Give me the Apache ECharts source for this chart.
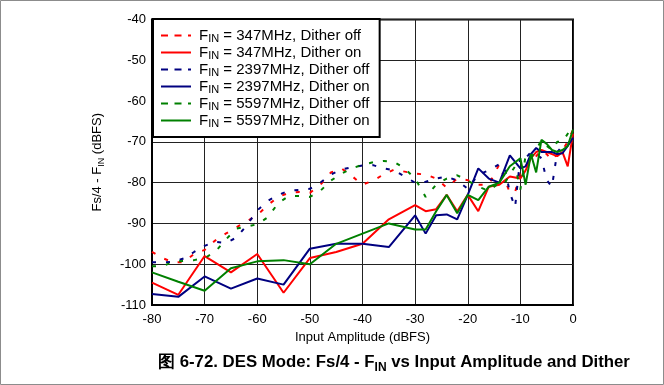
<!DOCTYPE html>
<html>
<head>
<meta charset="utf-8">
<script src="https://cdn.jsdelivr.net/npm/echarts@6/dist/echarts.min.js"></script>
<style>
html,body{margin:0;padding:0;background:#fff;}
#chart{width:664px;height:385px;}
</style>
</head>
<body>
<div id="chart"></div>
<script>
// ---- data ----
const xTicks = [-80, -70, -60, -50, -40, -30, -20, -10, 0];
const yTicks = [-110, -100, -90, -80, -70, -60, -50, -40];

// x positions for "Dither on" sweeps
const xOn = [-80,-75,-70,-65,-60,-55,-50,-45,-40,-35,-30,-28,-26,-24,-22,-20,-18,-16,-14,-12,-10,-9,-8,-7,-6,-5,-4,-3,-2,-1,0];
// x positions for "Dither off" sweeps
const xOff = [-80,-78,-76,-74,-72,-70,-68,-66,-64,-62,-60,-58,-56,-54,-52,-50,-48,-46,-44,-42,-40,-38,-36,-34,-32,-30,-28,-26,-24,-22,-20,-18,-16,-14,
              -13,-12,-11,-10,-9,-8,-7,-6,-5,-4,-3,-2,-1,0];

const f347Off = [-97,-98.5,-99.5,-99.5,-97.5,-96.5,-94.2,-92.5,-91,-89.5,-88,-85.5,-83.5,-82.5,-82.3,-82.5,-80.5,-77.5,-76.5,-78.4,-80.5,-79.5,-78,-76.8,-77.3,-77.8,-78,-79,-81.2,-79,-79.4,-80.5,-80.5,-75.5,
                 -79,-82.5,-82.3,-77.5,-76,-74,-73.5,-72,-73,-74.5,-73,-72,-70,-67];
const f347On = [-104.5,-107.5,-98,-102,-97.5,-107,-98.5,-97,-95,-89,-85.5,-87,-86.5,-83,-87,-83,-87,-81,-80.5,-78.5,-79,-77,-74,-72.5,-72,-72.5,-73,-73.5,-72.5,-76,-68];
const f2397Off = [-99.5,-99.6,-99.4,-98.6,-97,-95.5,-94.5,-94.8,-93.5,-90.5,-86.8,-84.5,-83,-82,-81.8,-81.5,-80,-78,-76.8,-76.2,-75.8,-75.7,-76.5,-77,-78.5,-80,-79.8,-79,-78.5,-79.5,-81.5,-78,-77,-75.5,
                  -76,-82.5,-86,-73.5,-74,-72.5,-73,-74,-79.4,-81,-72.5,-71,-70.5,-69];
const f2397On = [-107.3,-108,-103,-106,-103.5,-105,-96.2,-95,-95,-95.8,-88,-92.5,-88,-87.8,-89,-83,-76.5,-79,-80,-73.3,-76.5,-76,-73,-71.5,-72.5,-72.5,-72.5,-73,-72.8,-71,-69];
const f5597Off = [-100.5,-100.5,-99.4,-99.2,-99,-98.5,-97,-94,-91.3,-90.8,-90.2,-88.5,-85,-83.3,-83.3,-83.5,-82,-79.5,-77.8,-76.5,-75.6,-75,-74.7,-74.9,-76.5,-79,-83.5,-80.5,-79,-78.2,-79.5,-81,-82,-80,
                  -80.2,-78,-76,-81.7,-73.3,-74,-72,-69.6,-71,-72,-70,-70,-68,-66];
const f5597On = [-102,-104.3,-106.5,-101,-99.3,-99,-100,-95,-92.5,-90,-91.5,-91.5,-87,-83,-87.5,-83,-84.3,-81,-80,-76,-74,-80.5,-73,-77.5,-69.5,-70.5,-72,-72.5,-72,-71,-67];

const seriesNames = [
  'FIN = 347MHz, Dither off',
  'FIN = 347MHz, Dither on',
  'FIN = 2397MHz, Dither off',
  'FIN = 2397MHz, Dither on',
  'FIN = 5597MHz, Dither off',
  'FIN = 5597MHz, Dither on'
];
const seriesColors = ['#ff0000','#ff0000','#000080','#000080','#008000','#008000'];

const xAxisTitle = 'Input Amplitude (dBFS)';
const captionMain = '图 6-72. DES Mode: Fs/4 - F';
const captionSub = 'IN';
const captionTail = ' vs Input Amplitude and Dither';

// ---- build ----
function pairs(xs, ys){ return xs.map((x,i)=>[x, ys[i]]); }
const seriesData = [
  pairs(xOff, f347Off), pairs(xOn, f347On),
  pairs(xOff, f2397Off), pairs(xOn, f2397On),
  pairs(xOff, f5597Off), pairs(xOn, f5597On)
];
const dashed = [true,false,true,false,true,false];

const FONT = '"Liberation Sans", Arial, sans-serif';

const series = seriesNames.map((name,i)=>({
  name: name,
  type: 'line',
  data: seriesData[i],
  showSymbol: false,
  symbol: 'none',
  animation: false,
  z: 2 + i,
  lineStyle: {
    color: seriesColors[i],
    width: 2,
    type: dashed[i] ? [4, 10] : 'solid',
    cap: 'butt'
  },
  itemStyle: { color: seriesColors[i] }
}));

const chart = echarts.init(document.getElementById('chart'), null, {renderer:'canvas'});
chart.setOption({
  animation: false,
  backgroundColor: '#fff',
  textStyle: { fontFamily: FONT },
  grid: { left: 152, right: 91, top: 19.5, bottom: 80, show: true, borderColor: '#000', borderWidth: 2, backgroundColor: 'transparent' },
  xAxis: {
    type: 'value', min: -80, max: 0, interval: 10,
    name: xAxisTitle, nameLocation: 'middle', nameGap: 26,
    nameTextStyle: { fontFamily: FONT, fontSize: 13, color: '#000' },
    axisLine: { show: true, onZero: false, lineStyle: { color: '#000', width: 2 } },
    axisTick: { show: false },
    axisLabel: { fontFamily: FONT, fontSize: 13, color: '#000', margin: 8,
      formatter: v => xTicks.includes(v) ? String(v) : '' },
    splitLine: { show: true, lineStyle: { color: '#222', width: 1 } }
  },
  yAxis: {
    type: 'value', min: -110, max: -40, interval: 10,
    name: '{a|Fs/4 - F}{s|IN}{a| (dBFS)}', nameLocation: 'middle', nameGap: 46, nameRotate: 90,
    nameTextStyle: { fontFamily: FONT, fontSize: 13, color: '#000',
      rich: {
        a: { fontFamily: FONT, fontSize: 13, color: '#000', lineHeight: 18 },
        s: { fontFamily: FONT, fontSize: 9, color: '#000', lineHeight: 12, verticalAlign: 'bottom' }
      } },
    axisLine: { show: true, onZero: false, lineStyle: { color: '#000', width: 2 } },
    axisTick: { show: false },
    axisLabel: { fontFamily: FONT, fontSize: 13, color: '#000', margin: 6,
      formatter: v => yTicks.includes(v) ? String(v) : '' },
    splitLine: { show: true, lineStyle: { color: '#222', width: 1 } }
  },
  legend: {
    orient: 'vertical',
    left: 153, top: 19,
    padding: [8, 10, 8, 7],
    itemGap: 0,
    itemWidth: 30,
    itemHeight: 14,
    backgroundColor: '#fff',
    borderColor: '#000',
    borderWidth: 2,
    borderRadius: 0,
    z: 10,
    selectedMode: false,
    data: seriesNames.map((n,i)=>({
      name: n,
      itemStyle: { color: 'transparent', opacity: 0, borderWidth: 0 },
      lineStyle: dashed[i] ? { type: [7, 6.5], width: 2, color: seriesColors[i] } : { width: 2, color: seriesColors[i] }
    })),
    formatter: name => '{f|F}{s|IN}{a|' + name.slice(3) + '}',
    textStyle: {
      fontFamily: FONT, fontSize: 15, color: '#000', lineHeight: 17,
      rich: {
        f: { fontFamily: FONT, fontSize: 15, color: '#000', lineHeight: 17, padding: [0,0,0,3] },
        a: { fontFamily: FONT, fontSize: 15, color: '#000', lineHeight: 17 },
        s: { fontFamily: FONT, fontSize: 11, color: '#000', lineHeight: 8, verticalAlign: 'bottom' }
      }
    }
  },
  graphic: [
    { type: 'rect', shape: { x: 0.5, y: 0.5, width: 663, height: 384 }, style: { fill: 'none', stroke: '#8c8c8c', lineWidth: 1 }, silent: true, z: 100 },
    { type: 'text', left: 158, top: 354,
      style: {
        text: '{b|' + captionMain + '}{c|' + captionSub + '}{b|' + captionTail + '}',
        rich: {
          b: { fontFamily: FONT, fontSize: 16.8, fontWeight: 'bold', fill: '#000', lineHeight: 22 },
          c: { fontFamily: FONT, fontSize: 12, fontWeight: 'bold', fill: '#000', lineHeight: 14, verticalAlign: 'bottom' }
        }
      }
    }
  ],
  series: series
});
</script>
</body>
</html>
